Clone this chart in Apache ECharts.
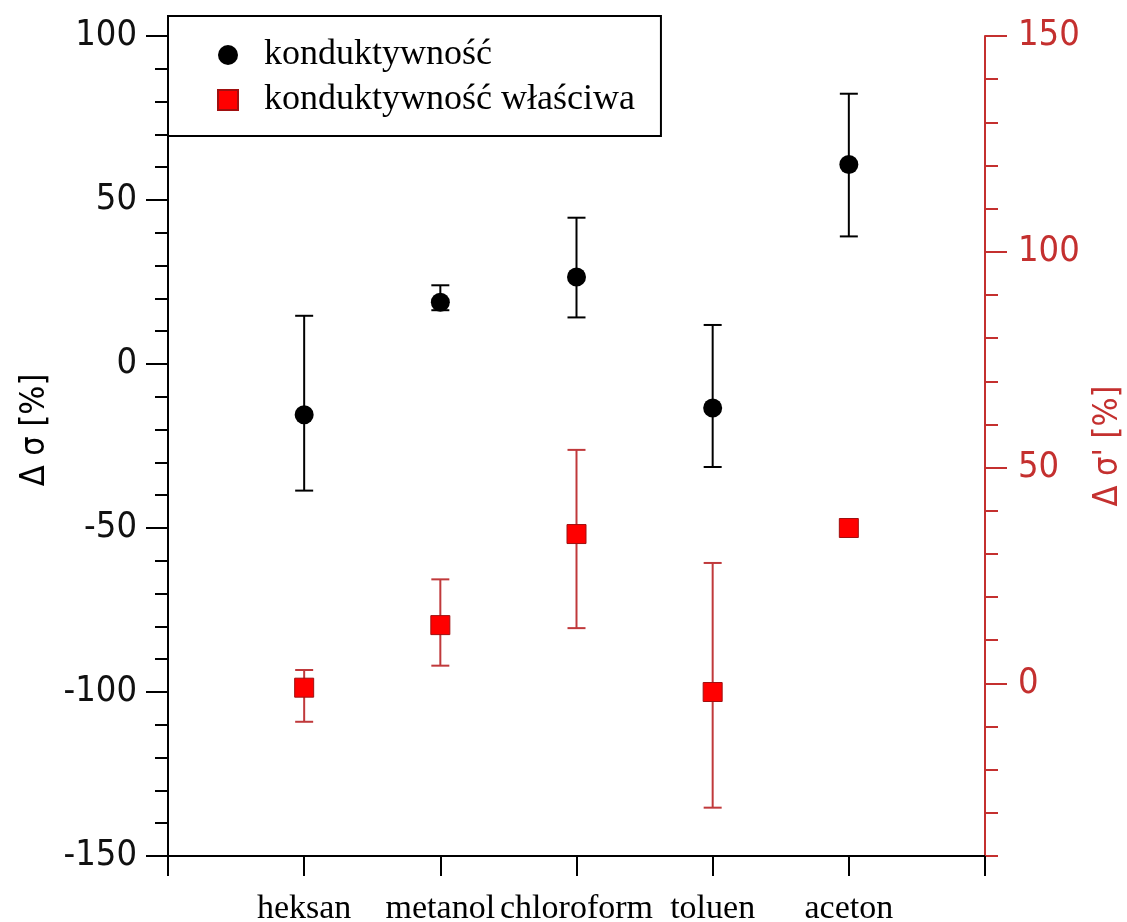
<!DOCTYPE html>
<html>
<head>
<meta charset="utf-8">
<script src="https://cdn.jsdelivr.net/npm/echarts@6/dist/echarts.min.js"></script>
<style>
html,body{margin:0;padding:0;background:#fff;}
#chart{width:1127px;height:922px;}
</style>
</head>
<body>
<div id="chart"></div>
<script>
// ---- data ----
var categories = ['heksan', 'metanol', 'chloroform', 'toluen', 'aceton'];
// konduktywność (left axis, Δσ [%])
var condValue = [-15.5, 18.8, 26.5, -13.4, 60.8];
var condLow   = [-38.6, 16.4, 14.2, -31.4, 38.9];
var condHigh  = [14.7, 24.0, 44.6, 11.9, 82.4];
// konduktywność właściwa (right axis, Δσ' [%])
var specValue = [-1.0, 13.5, 34.6, -2.0, 36.0];
var specLow   = [-8.9, 4.1, 12.8, -28.8, 35.2];
var specHigh  = [3.1, 24.1, 54.1, 27.9, 36.8];
var leftTicks = [-150, -100, -50, 0, 50, 100];
var rightTicks = [0, 50, 100, 150];
var seriesNames = ['konduktywność', 'konduktywność właściwa'];

var RED = '#c4302f';
var NUMFONT = "'DejaVu Sans Condensed', 'DejaVu Sans', sans-serif";
var SERIF = "'Liberation Serif', 'Times New Roman', serif";

function pts(vals) { return vals.map(function (v, i) { return [i + 1, v]; }); }
function bars(lo, hi) { return lo.map(function (v, i) { return [i + 1, v, hi[i]]; }); }

function errRender(color) {
  return function (params, api) {
    var x = api.value(0);
    var p1 = api.coord([x, api.value(1)]);
    var p2 = api.coord([x, api.value(2)]);
    var hw = 9;
    var st = { stroke: color, lineWidth: 2 };
    return {
      type: 'group',
      children: [
        { type: 'line', shape: { x1: p1[0], y1: p1[1], x2: p2[0], y2: p2[1] }, style: st },
        { type: 'line', shape: { x1: p1[0] - hw, y1: p1[1], x2: p1[0] + hw, y2: p1[1] }, style: st },
        { type: 'line', shape: { x1: p2[0] - hw, y1: p2[1], x2: p2[0] + hw, y2: p2[1] }, style: st }
      ]
    };
  };
}

var gridBox = { left: 168, right: 142, top: 36, bottom: 66, containLabel: false, outerBoundsMode: 'none' };

var chart = echarts.init(document.getElementById('chart'), null, { renderer: 'canvas' });
chart.setOption({
  backgroundColor: '#fff',
  animation: false,
  grid: [
    Object.assign({}, gridBox),
    Object.assign({}, gridBox)
  ],
  legend: {
    left: 168, top: 16, orient: 'vertical',
    backgroundColor: '#fff', borderColor: '#000', borderWidth: 2,
    padding: [19, 26, 16, 49],
    itemGap: 5, itemWidth: 62, itemHeight: 20,
    symbolKeepAspect: true,
    textStyle: { fontFamily: SERIF, fontSize: 36, color: '#000', lineHeight: 40 },
    data: [
      { name: seriesNames[0], icon: 'circle' },
      { name: seriesNames[1], icon: 'path://M0,0H20V20H0Z' }
    ]
  },
  xAxis: [
    {
      type: 'value', gridIndex: 0, min: 0, max: 6, interval: 1,
      axisLine: { show: true, onZero: false, lineStyle: { color: '#000', width: 2 } },
      axisTick: { show: true, inside: false, length: 20, lineStyle: { color: '#000', width: 2 } },
      splitLine: { show: false },
      axisLabel: {
        margin: 36, fontFamily: SERIF, fontSize: 34, lineHeight: 34, color: '#000',
        formatter: function (v) { return categories[v - 1] || ''; }
      }
    },
    {
      type: 'value', gridIndex: 1, min: 0, max: 6, show: false
    }
  ],
  yAxis: [
    {
      type: 'value', gridIndex: 0, position: 'left', min: -150, max: 100, interval: 50,
      name: 'Δ σ [%]', nameLocation: 'middle', nameGap: 112, nameRotate: 90,
      nameTextStyle: { fontFamily: NUMFONT, fontSize: 34, color: '#000', padding: [0, 0, 0, 32] },
      axisLine: { show: true, onZero: false, lineStyle: { color: '#000', width: 2 } },
      axisTick: { show: true, inside: false, length: 22, lineStyle: { color: '#000', width: 2 } },
      minorTick: { show: true, splitNumber: 5, length: 13, lineStyle: { color: '#000', width: 2 } },
      splitLine: { show: false },
      axisLabel: { margin: 31, fontFamily: NUMFONT, fontSize: 36, color: '#111',
        customValues: leftTicks }
    },
    {
      type: 'value', gridIndex: 0, position: 'right', min: -40, max: 150,
      name: "Δ σ' [%]", nameLocation: 'middle', nameGap: 104, nameRotate: 90,
      nameTextStyle: { fontFamily: NUMFONT, fontSize: 34, color: RED },
      axisLine: { show: true, onZero: false, lineStyle: { color: RED, width: 2 } },
      axisTick: { show: true, inside: false, length: 22, customValues: rightTicks, lineStyle: { color: RED, width: 2 } },
      splitLine: { show: false },
      axisLabel: { margin: 33, fontFamily: NUMFONT, fontSize: 36, color: RED, customValues: rightTicks }
    },
    {
      type: 'value', gridIndex: 1, position: 'right', min: -40, max: 150, interval: 10,
      axisLine: { show: false, onZero: false },
      axisTick: { show: true, inside: false, length: 13, lineStyle: { color: RED, width: 2 } },
      axisLabel: { show: false },
      splitLine: { show: false }
    }
  ],
  series: [
    {
      name: 'errCond', type: 'custom', xAxisIndex: 0, yAxisIndex: 0, z: 2,
      renderItem: errRender('#000'), encode: { x: 0, y: [1, 2] },
      data: bars(condLow, condHigh)
    },
    {
      name: 'errSpec', type: 'custom', xAxisIndex: 0, yAxisIndex: 1, z: 2,
      renderItem: errRender('#c0393b'), encode: { x: 0, y: [1, 2] },
      data: bars(specLow, specHigh)
    },
    {
      name: seriesNames[0], type: 'scatter', xAxisIndex: 0, yAxisIndex: 0, z: 5,
      symbol: 'circle', symbolSize: 19,
      itemStyle: { color: '#000', opacity: 1 },
      data: pts(condValue)
    },
    {
      name: seriesNames[1], type: 'scatter', xAxisIndex: 0, yAxisIndex: 1, z: 5,
      symbol: 'rect', symbolSize: 19,
      itemStyle: { color: '#ff0000', borderColor: '#a01010', borderWidth: 1, opacity: 1 },
      data: pts(specValue)
    }
  ]
});
</script>
</body>
</html>
